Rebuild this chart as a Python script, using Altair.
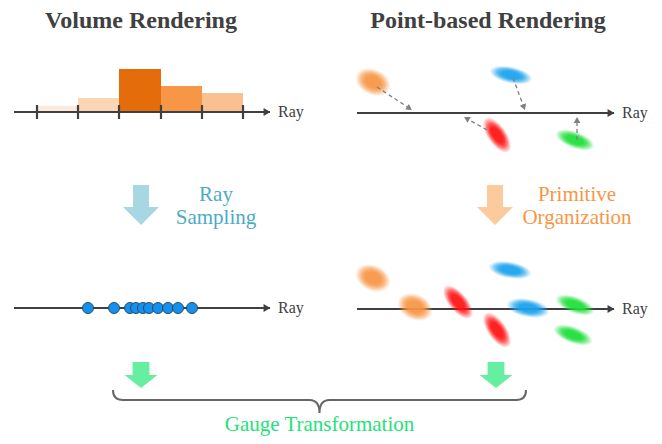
import math
import altair as alt
import pandas as pd

SERIF = "'Liberation Serif', 'Times New Roman', Times, 'DejaVu Serif', serif"
DARK = "#404040"

# ---------------- data (diagram coordinates, in reference pixels) ----------------
titles = ["Volume Rendering", "Point-based Rendering"]
title_x = [141, 488]
title_y = [28, 28]

# rays: start, end, y
ray_x0 = [14, 14, 357, 357]
ray_x1 = [270, 270, 614, 614]
ray_y = [112, 308, 113, 309]

# histogram along the volume-rendering ray
bin_edges = [37, 78, 119, 161, 202, 243]
bin_tops = [106, 98, 69, 86, 93]
bin_colors = ["#FDE9D9", "#FCD5B4", "#E46C0A", "#F79646", "#FAC090"]

# ray samples
sample_x = [88, 114, 130, 136, 143, 149, 158, 168, 178, 192]

# gaussian primitives: x, y, length, aspect, angle, color
prim_x = [373, 511, 497, 575, 373, 415, 458, 497, 510, 528, 575, 573]
prim_y = [82, 75, 135, 140, 278, 307, 302, 330, 270, 308, 305, 335]
prim_len = [34, 40, 38, 38, 34, 34, 38, 38, 40, 40, 38, 38]
prim_aspect = [0.70, 0.38, 0.45, 0.40, 0.70, 0.70, 0.45, 0.45, 0.38, 0.42, 0.40, 0.40]
prim_angle = [25, 12, 55, 20, 25, 25, 50, 55, 10, 10, 20, 20]
prim_color = ["#F79646", "#1AA3EE", "#FF1414", "#1EE03A",
              "#F79646", "#F79646", "#FF1414", "#FF1414",
              "#1AA3EE", "#1AA3EE", "#1EE03A", "#1EE03A"]

# dashed projection arrows (start -> end)
dash_x0 = [377, 513, 487, 577]
dash_y0 = [87, 78, 130, 140]
dash_x1 = [412, 525, 464, 577]
dash_y1 = [110, 110, 117, 117]

# big downward arrows
big_x = [141, 495]
big_y = [205, 205]
big_color = ["#A6D7E3", "#FBCB9E"]
green_x = [141, 496]
green_y = [375, 375]

# step labels
lab_text = ["Ray", "Sampling", "Primitive", "Organization"]
lab_x = [216, 216, 577, 577]
lab_y = [201, 224, 201, 224]
lab_color = ["#4BACC6", "#4BACC6", "#F79646", "#F79646"]

gauge_text = ["Gauge Transformation"]
gauge_y = [431]
brace_center = [319.5, 401.5]
brace_width = 413

# ---------------- helpers ----------------
XS = alt.Scale(domain=[8, 654], nice=False, zero=False)
YS = alt.Scale(domain=[8, 436], nice=False, zero=False, reverse=True)


def X(f="x"):
    return alt.X(f"{f}:Q", scale=XS, axis=None)


def Y(f="y"):
    return alt.Y(f"{f}:Q", scale=YS, axis=None)


def ellipse_path(a):
    k = 0.5523
    return (f"M 1 0 C 1 {a*k:.4f} {k} {a} 0 {a} C {-k} {a} -1 {a*k:.4f} -1 0 "
            f"C -1 {-a*k:.4f} {-k} {-a} 0 {-a} C {k} {-a} 1 {-a*k:.4f} 1 0 Z")


layers = []

# histogram bars
bars = pd.DataFrame({
    "x": bin_edges[:-1], "x2": bin_edges[1:],
    "y": bin_tops, "y2": [ray_y[0]] * 5, "c": bin_colors,
})
layers.append(alt.Chart(bars).mark_rect().encode(
    x=X(), x2="x2", y=Y(), y2="y2", color=alt.Color("c:N", scale=None)))

# rays
rays = pd.DataFrame({"x": ray_x0, "x2": ray_x1, "y": ray_y})
layers.append(alt.Chart(rays).mark_rule(color=DARK, strokeWidth=2).encode(
    x=X(), x2="x2", y=Y()))
heads = pd.DataFrame({"x": [v - 3 for v in ray_x1], "y": ray_y})
layers.append(alt.Chart(heads).mark_point(
    shape="triangle-right", filled=True, color=DARK, size=64, opacity=1).encode(x=X(), y=Y()))
ray_lab = pd.DataFrame({"x": [v + 8 for v in ray_x1], "y": ray_y, "t": ["Ray"] * 4})
layers.append(alt.Chart(ray_lab).mark_text(
    align="left", baseline="middle", font=SERIF, fontSize=16, color=DARK).encode(
    x=X(), y=Y(), text="t:N"))

# ticks
ticks = pd.DataFrame({"x": bin_edges, "y": [ray_y[0] - 7] * 6, "y2": [ray_y[0] + 7] * 6})
layers.append(alt.Chart(ticks).mark_rule(color=DARK, strokeWidth=2.2).encode(
    x=X(), y=Y(), y2="y2"))

# samples
samp = pd.DataFrame({"x": sample_x, "y": [ray_y[1]] * len(sample_x)})
layers.append(alt.Chart(samp).mark_point(
    shape="circle", filled=True, size=121, fill="#1490EE", stroke="#2F4A63",
    strokeWidth=1, opacity=1).encode(x=X(), y=Y()))

# blurred gaussian primitives
keys = sorted(set(prim_aspect))
shape_dom = [f"a{int(a*100)}" for a in keys]
shape_rng = [ellipse_path(a) for a in keys]
rows = []
for f, op in [(1.05, 0.16), (0.95, 0.22), (0.85, 0.28), (0.75, 0.36), (0.63, 0.48), (0.5, 0.6)]:
    for i in range(len(prim_x)):
        rows.append({"x": prim_x[i], "y": prim_y[i], "s": (prim_len[i] * f) ** 2,
                     "k": f"a{int(prim_aspect[i]*100)}", "ang": prim_angle[i],
                     "c": prim_color[i], "o": op, "layer": f})
prims = pd.DataFrame(rows)
layers.append(alt.Chart(prims).mark_point(filled=True, strokeWidth=0).encode(
    x=X(), y=Y(),
    size=alt.Size("s:Q", scale=None),
    shape=alt.Shape("k:N", scale=alt.Scale(domain=shape_dom, range=shape_rng), legend=None),
    angle=alt.Angle("ang:Q", scale=None),
    color=alt.Color("c:N", scale=None),
    opacity=alt.Opacity("o:Q", scale=None),
    order=alt.Order("layer:Q", sort="descending"),
))

# dashed arrows
d_rows, h_rows = [], []
for i in range(len(dash_x0)):
    dx, dy = dash_x1[i] - dash_x0[i], dash_y1[i] - dash_y0[i]
    L = math.hypot(dx, dy)
    ux, uy = dx / L, dy / L
    d_rows.append({"x": dash_x0[i], "y": dash_y0[i], "x2": dash_x1[i] - ux * 4, "y2": dash_y1[i] - uy * 4})
    ang = math.degrees(math.atan2(dx, -dy)) % 360
    h_rows.append({"x": dash_x1[i] - ux * 3, "y": dash_y1[i] - uy * 3, "ang": ang})
layers.append(alt.Chart(pd.DataFrame(d_rows)).mark_rule(
    color="#808080", strokeWidth=1.3, strokeDash=[4, 3]).encode(
    x=X(), y=Y(), x2="x2", y2="y2"))
layers.append(alt.Chart(pd.DataFrame(h_rows)).mark_point(
    shape="triangle-up", filled=True, color="#808080", size=45, opacity=1).encode(
    x=X(), y=Y(), angle=alt.Angle("ang:Q", scale=None)))

# big arrows
big_path = "M -0.4 -1 L 0.4 -1 L 0.4 0.1 L 0.9 0.1 L 0 1 L -0.9 0.1 L -0.4 0.1 Z"
big = pd.DataFrame({"x": big_x, "y": big_y, "c": big_color})
layers.append(alt.Chart(big).mark_point(
    shape=big_path, filled=True, size=1600, opacity=1, strokeWidth=0).encode(
    x=X(), y=Y(), color=alt.Color("c:N", scale=None)))

green_path = "M -0.65 -1 L 0.65 -1 L 0.65 0 L 1.27 0 L 0 1 L -1.27 0 L -0.65 0 Z"
gr = pd.DataFrame({"x": green_x, "y": green_y})
layers.append(alt.Chart(gr).mark_point(
    shape=green_path, filled=True, size=676, opacity=1, strokeWidth=0, color="#66EFA0").encode(
    x=X(), y=Y()))

# step labels
labs = pd.DataFrame({"x": lab_x, "y": lab_y, "t": lab_text, "c": lab_color})
layers.append(alt.Chart(labs).mark_text(
    align="center", baseline="alphabetic", font=SERIF, fontSize=21).encode(
    x=X(), y=Y(), text="t:N", color=alt.Color("c:N", scale=None)))

# brace
r = brace_width / 2.0
def u(v):
    return f"{v / r:.4f}"
top, mid, cusp, rad = -11.5, -1.5, 11.5, 10
brace_path = (f"M -1 {u(top)} Q -1 {u(mid)} {u(-r + rad)} {u(mid)} "
              f"L {u(-rad)} {u(mid)} Q 0 {u(mid)} 0 {u(cusp)} "
              f"Q 0 {u(mid)} {u(rad)} {u(mid)} L {u(r - rad)} {u(mid)} "
              f"Q 1 {u(mid)} 1 {u(top)}")
br = pd.DataFrame({"x": [brace_center[0]], "y": [brace_center[1]]})
layers.append(alt.Chart(br).mark_point(
    shape=brace_path, filled=False, size=brace_width ** 2, color="#666666",
    strokeWidth=2, opacity=1).encode(x=X(), y=Y()))

gauge = pd.DataFrame({"x": [brace_center[0]], "y": gauge_y, "t": gauge_text})
layers.append(alt.Chart(gauge).mark_text(
    align="center", baseline="alphabetic", font=SERIF, fontSize=21, color="#22E27A").encode(
    x=X(), y=Y(), text="t:N"))

# titles
tt = pd.DataFrame({"x": title_x, "y": title_y, "t": titles})
layers.append(alt.Chart(tt).mark_text(
    align="center", baseline="alphabetic", font=SERIF, fontSize=24, fontWeight="bold",
    color=DARK).encode(x=X(), y=Y(), text="t:N"))

chart = alt.layer(*layers).properties(
    width=646, height=428, padding=0,
    autosize=alt.AutoSizeParams(type="none"),
).configure_view(stroke=None)

chart.save("out.html", embed_options={"renderer": "svg", "actions": False})
